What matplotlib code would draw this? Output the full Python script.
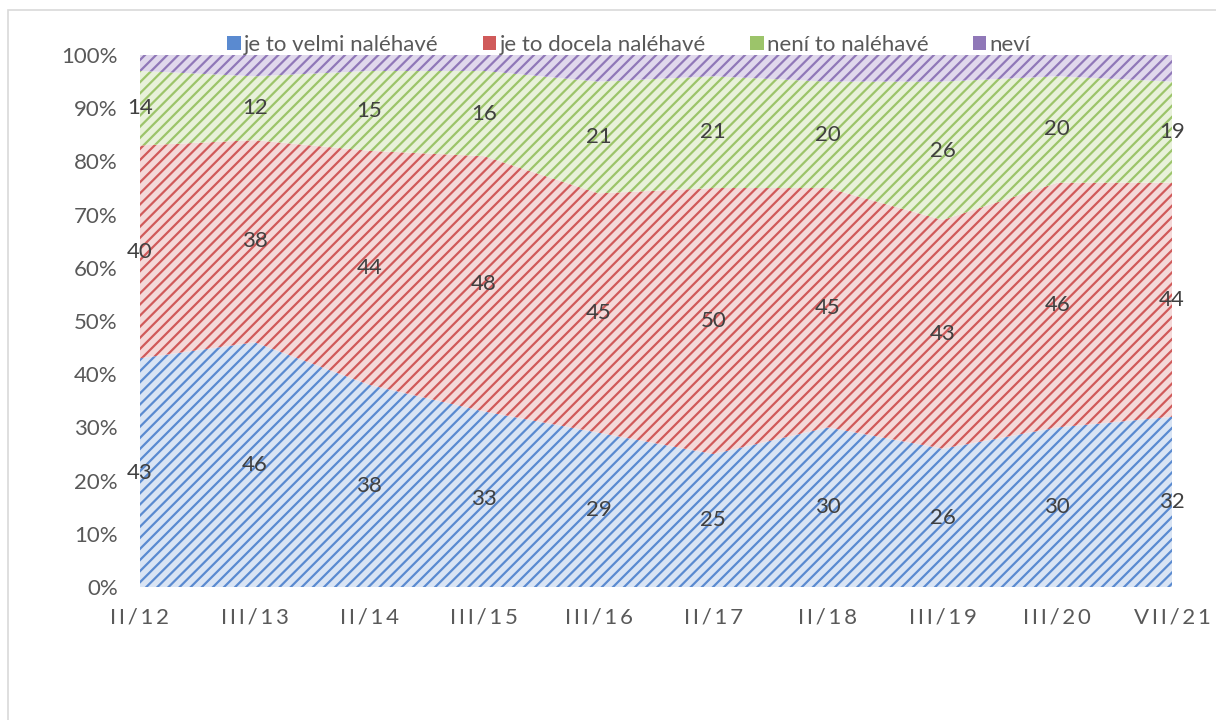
import matplotlib
matplotlib.use("Agg")
import matplotlib.pyplot as plt
import numpy as np
from matplotlib.patches import Rectangle, Patch

plt.rcParams['font.family'] = ['Lato', 'DejaVu Sans']
plt.rcParams['hatch.linewidth'] = 1.6

categories = ["II/12", "III/13", "II/14", "III/15", "III/16", "II/17", "II/18", "III/19", "III/20", "VII/21"]
velmi = [43, 46, 38, 33, 29, 25, 30, 26, 30, 32]
docela = [40, 38, 44, 48, 45, 50, 45, 43, 46, 44]
neni = [14, 12, 15, 16, 21, 21, 20, 26, 20, 19]
nevi = [3, 4, 3, 3, 5, 4, 5, 5, 4, 5]
series_names = ["je to velmi naléhavé", "je to docela naléhavé", "není to naléhavé", "neví"]
y_ticks = [0, 10, 20, 30, 40, 50, 60, 70, 80, 90, 100]

line_colors = ["#5a8ad0", "#d05a5a", "#9cc46a", "#9078b8"]
fill_colors = ["#d9e4f4", "#f4d9d9", "#e8f1da", "#e0d8ec"]
text_color = "#595959"
fs = 16

fig = plt.figure(figsize=(12.16, 7.2), dpi=100)
ax = fig.add_axes([140 / 1216, 1 - 587 / 720, (1172 - 140) / 1216, (587 - 55) / 720])

x = np.arange(len(categories))
series = [np.array(velmi), np.array(docela), np.array(neni), np.array(nevi)]
bottom = np.zeros(len(categories))
for i, vals in enumerate(series):
    top = bottom + vals
    ax.fill_between(x, bottom, top, facecolor=fill_colors[i], edgecolor=line_colors[i],
                    hatch='///', linewidth=0, zorder=2)
    if i < 3:
        mid = bottom + vals / 2
        for xi, yi, v in zip(x, mid, vals):
            ax.text(xi, yi, str(v), ha='center', va='center', fontsize=fs,
                    color='#404040', zorder=5)
    bottom = top

ax.set_xlim(0, len(categories) - 1)
ax.set_ylim(0, 100)
ax.set_yticks(y_ticks)
ax.set_yticklabels([f"{t}%" for t in y_ticks], fontsize=fs, color=text_color)
ax.set_xticks(x)
ax.set_xticklabels(["\u2009".join(c) for c in categories], fontsize=fs, color=text_color)
ax.tick_params(axis='both', length=0)
ax.tick_params(axis='x', pad=15)
ax.tick_params(axis='y', pad=16)
for s in ax.spines.values():
    s.set_visible(False)

# legend across the top
handles = [Patch(facecolor=line_colors[i], edgecolor=line_colors[i], linewidth=0) for i in range(4)]
leg = fig.legend(handles, series_names, loc='center', bbox_to_anchor=(629 / 1216, 1 - 45 / 720),
                 ncol=4, frameon=False, fontsize=fs, handlelength=0.6, handleheight=0.6,
                 handletextpad=0.15, columnspacing=2.0, labelcolor=text_color)

# outer chart frame
fig.patches.append(Rectangle((8 / 1216, -0.1), 1.2, 1 - 10 / 720 + 0.1, transform=fig.transFigure,
                             fill=False, edgecolor="#d9d9d9", linewidth=1.2))

fig.savefig("out.png", dpi=100)
